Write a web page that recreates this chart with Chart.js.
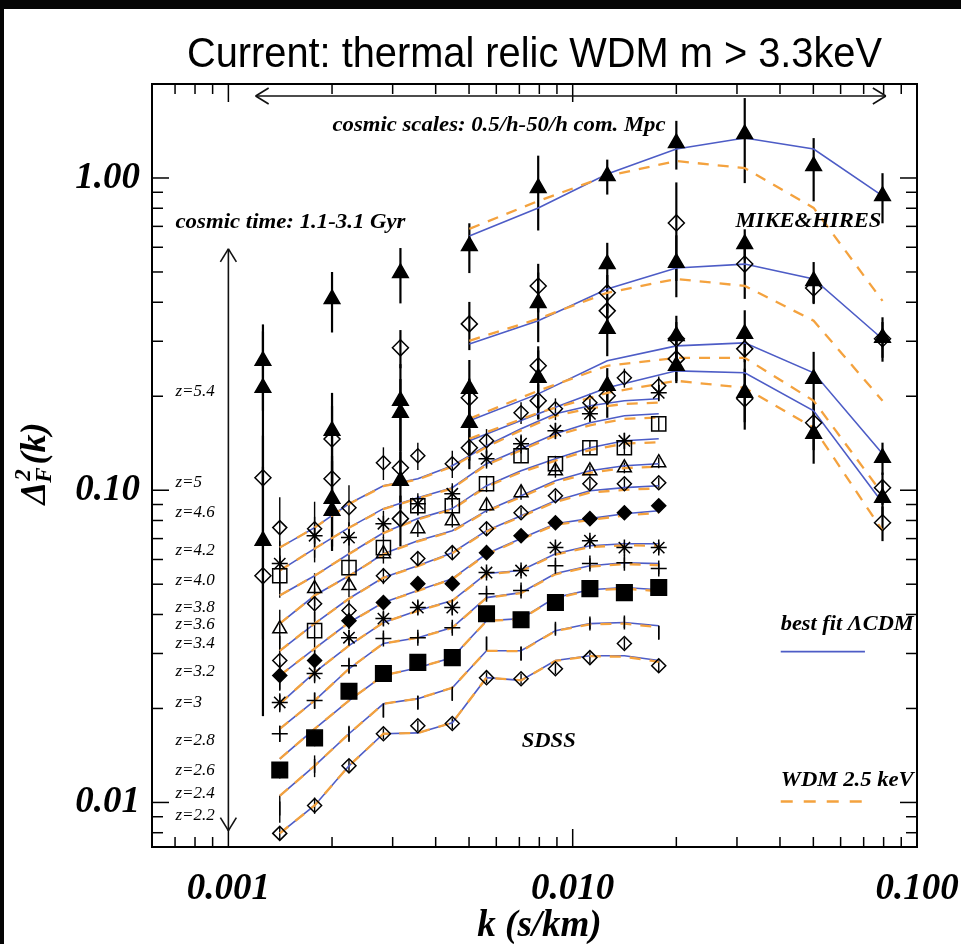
<!DOCTYPE html>
<html>
<head>
<meta charset="utf-8">
<title>Current: thermal relic WDM m > 3.3keV</title>
<script src="https://cdn.jsdelivr.net/npm/chart.js@4.4.1/dist/chart.umd.min.js"></script>
<style>
html,body{margin:0;padding:0;background:#fff;overflow:hidden;}
#box{width:961px;height:944px;position:relative;}
canvas{display:block;}
</style>
</head>
<body>
<div id="box"><canvas id="chart" width="961" height="944"></canvas></div>
<script>
// ---------------- DATA ----------------
const sdssK = [0.00141,0.00178,0.00224,0.00282,0.00355,0.00447,0.00562,0.00708,0.00891,0.01122,0.01413,0.01778];
const mikeK = [0.00126,0.00200,0.00316,0.00501,0.00794,0.0126,0.0200,0.0316,0.0501,0.0794];
const mikeModelK = [0.00501,0.00794,0.0126,0.0200,0.0316,0.0501,0.0794];

const xMajorTicks = [0.001,0.01,0.1];
const xTickLabels = ['0.001','0.010','0.100'];
const yMajorTicks = [0.01,0.1,1];
const yTickLabels = ['0.01','0.10','1.00'];

const redshiftLabels = ['z=5.4','z=5','z=4.6','z=4.2','z=4.0','z=3.8','z=3.6','z=3.4','z=3.2','z=3','z=2.8','z=2.6','z=2.4','z=2.2'];

// SDSS flux power, points, relative errors, best-fit LCDM and WDM 2.5 keV
const sdss_z22 = [0.00796,0.00978,0.0131,0.0166,0.0176,0.0179,0.0251,0.0249,0.0268,0.0291,0.0323,0.0274];
const errFrac_z22 = [0.05,0.06,0.05,0.04,0.04,0.04,0.04,0.04,0.04,0.04,0.04,0.05];
const lcdm_z22 = [0.00796,0.00978,0.0131,0.0166,0.0167,0.0180,0.0251,0.0246,0.0285,0.0295,0.0295,0.0285];
const wdm_z22  = [0.00796,0.00978,0.0131,0.0166,0.0167,0.0180,0.0251,0.0246,0.0284,0.0294,0.0293,0.0282];

const sdss_z24 = [0.00957,0.0131,0.0166,0.0197,0.0209,0.0223,0.0323,0.0300,0.0360,0.0374,0.0377,0.0350];
const errFrac_z24 = [0.10,0.08,0.06,0.05,0.05,0.05,0.05,0.05,0.04,0.04,0.04,0.05];
const lcdm_z24 = [0.0105,0.0131,0.0166,0.0207,0.0215,0.0233,0.0306,0.0306,0.0355,0.0374,0.0377,0.0368];
const wdm_z24  = [0.0105,0.0131,0.0166,0.0207,0.0215,0.0233,0.0306,0.0305,0.0354,0.0372,0.0374,0.0364];

const sdss_z26 = [0.0127,0.0161,0.0227,0.0259,0.0281,0.0291,0.0402,0.0385,0.0437,0.0484,0.0470,0.0488];
const errFrac_z26 = [0.06,0.06,0.05,0.05,0.04,0.04,0.04,0.04,0.04,0.04,0.04,0.04];
const lcdm_z26 = [0.0138,0.0172,0.0212,0.0255,0.0270,0.0291,0.0382,0.0388,0.0453,0.0480,0.0488,0.0480];
const wdm_z26  = [0.0138,0.0172,0.0212,0.0255,0.0270,0.0291,0.0381,0.0387,0.0451,0.0477,0.0484,0.0475];

const sdss_z28 = [0.0166,0.0212,0.0274,0.0335,0.0337,0.0363,0.0466,0.0477,0.0573,0.0582,0.0586,0.0561];
const errFrac_z28 = [0.06,0.06,0.05,0.04,0.04,0.04,0.04,0.04,0.04,0.04,0.04,0.04];
const lcdm_z28 = [0.0172,0.0212,0.0268,0.0323,0.0337,0.0363,0.0453,0.0470,0.0541,0.0573,0.0586,0.0582];
const wdm_z28  = [0.0172,0.0212,0.0268,0.0323,0.0337,0.0362,0.0452,0.0468,0.0538,0.0569,0.0580,0.0575];

const sdss_z30 = [0.0209,0.0259,0.0337,0.0388,0.0421,0.0421,0.0545,0.0553,0.0655,0.0689,0.0655,0.0655];
const errFrac_z30 = [0.07,0.07,0.06,0.05,0.05,0.05,0.04,0.04,0.04,0.04,0.04,0.04];
const lcdm_z30 = [0.0207,0.0261,0.0318,0.0377,0.0412,0.0443,0.0541,0.0553,0.0626,0.0664,0.0674,0.0674];
const wdm_z30  = [0.0207,0.0261,0.0318,0.0377,0.0411,0.0442,0.0539,0.0550,0.0622,0.0658,0.0666,0.0664];

const sdss_z32 = [0.0255,0.0285,0.0382,0.0437,0.0502,0.0502,0.0631,0.0715,0.0787,0.0811,0.0847,0.0892];
const errFrac_z32 = [0.10,0.08,0.06,0.05,0.05,0.05,0.04,0.04,0.04,0.04,0.04,0.04];
const lcdm_z32 = [0.0255,0.0311,0.0377,0.0437,0.0477,0.0521,0.0626,0.0700,0.0781,0.0811,0.0841,0.0860];
const wdm_z32  = [0.0255,0.0311,0.0377,0.0436,0.0476,0.0519,0.0623,0.0696,0.0775,0.0803,0.0830,0.0846];

const sdss_z34 = [0.0285,0.0433,0.0412,0.0532,0.0604,0.0631,0.0753,0.0847,0.0960,0.1049,0.1049,0.1057];
const errFrac_z34 = [0.20,0.12,0.08,0.06,0.05,0.05,0.05,0.04,0.04,0.04,0.04,0.04];
const lcdm_z34 = [0.0306,0.0374,0.0450,0.0525,0.0573,0.0631,0.0742,0.0829,0.0926,0.0996,0.1019,0.1034];
const wdm_z34  = [0.0306,0.0374,0.0449,0.0524,0.0571,0.0628,0.0738,0.0823,0.0917,0.0983,0.1003,0.1014];

const sdss_z36 = [0.0360,0.0484,0.0495,0.0626,0.0753,0.0799,0.0892,0.0982,0.1154,0.1154,0.1180,0.1225];
const errFrac_z36 = [0.15,0.12,0.08,0.07,0.06,0.05,0.05,0.05,0.05,0.04,0.04,0.04];
const lcdm_z36 = [0.0374,0.0460,0.0532,0.0626,0.0689,0.0742,0.0860,0.0960,0.1072,0.1154,0.1198,0.1216];
const wdm_z36  = [0.0374,0.0460,0.0531,0.0624,0.0686,0.0738,0.0855,0.0951,0.1060,0.1137,0.1177,0.1190];

const sdss_z38 = [0.0532,0.0355,0.0565,0.0655,0.0892,0.0892,0.1049,0.1289,0.1216,0.1368,0.1368,0.1632];
const errFrac_z38 = [0.15,0.15,0.10,0.08,0.07,0.06,0.06,0.05,0.06,0.05,0.05,0.05];
const lcdm_z38 = [0.0460,0.0532,0.0626,0.0731,0.0811,0.0873,0.1034,0.1154,0.1261,0.1368,0.1440,0.1462];
const wdm_z38  = [0.0460,0.0532,0.0625,0.0729,0.0807,0.0868,0.1026,0.1142,0.1244,0.1345,0.1410,0.1425];

const sdss_z40 = [0.0582,0.0715,0.0705,0.0781,0.0905,0.0974,0.1261,0.1409,0.1550,0.1757,0.1440,0.2051];
const errFrac_z40 = [0.18,0.15,0.12,0.10,0.08,0.08,0.07,0.07,0.06,0.06,0.06,0.06];
const lcdm_z40 = [0.0553,0.0650,0.0759,0.0873,0.0946,0.1019,0.1216,0.1358,0.1516,0.1644,0.1731,0.1757];
const wdm_z40  = [0.0553,0.0650,0.0758,0.0870,0.0941,0.1013,0.1206,0.1343,0.1495,0.1614,0.1692,0.1710];

const sdss_z42 = [0.0759,0.0753,0.0879,0.1225,0.1289,0.1216,0.1440,0.1770,0.1823,0.1905,0.2291,0.2160];
const errFrac_z42 = [0.25,0.22,0.18,0.12,0.10,0.10,0.09,0.08,0.08,0.07,0.07,0.07];
const lcdm_z42 = [0.0655,0.0759,0.0905,0.1034,0.1088,0.1198,0.1388,0.1573,0.1757,0.1864,0.1934,0.1963];
const wdm_z42  = [0.0655,0.0759,0.0903,0.1030,0.1082,0.1190,0.1376,0.1555,0.1731,0.1829,0.1890,0.1908];

// MIKE (triangles) and HIRES (diamonds) points with 1-sigma errors
const mike_z54 = [0.2597,0.410,0.4966,0.606,0.929,1.015,1.294,1.383,1.092,0.876];
const sig_mike_z54 = [0.08,0.09,0.10,0.11,0.25,0.13,0.23,0.42,0.25,0.16];
const hires_z50 = [0.1096,0.146,0.2858,0.341,0.451,0.429,0.718,0.530,0.4446,0.3056];
const sig_hires_z50 = [0.04,0.04,0.04,0.06,0.08,0.06,0.25,0.12,0.05,0.04];
const mike_z50 = [0.2128,0.155,0.1934,0.2113,0.398,0.530,0.535,0.615,0.468,0.308];
const sig_mike_z50 = [0.11,0.05,0.06,0.05,0.10,0.09,0.12,0.07,0.07,0.05];
const mike_z46 = [0.0689,0.0939,0.177,0.1644,0.229,0.3287,0.312,0.317,0.2274,0.127];
const sig_mike_z46 = [0.05,0.03,0.05,0.04,0.06,0.06,0.05,0.06,0.05,0.015];
const hires_z46 = [0.0532,0.1088,0.118,0.1977,0.2503,0.3754,0.3056,0.2836,null,0.1019];
const sig_hires_z46 = [0.02,0.02,0.015,0.03,0.03,0.04,0.04,0.05,0,0.012];
const mike_z42 = [null,0.086,0.1072,null,null,0.216,0.2503,0.2051,0.1516,0.0946];
const sig_mike_z42 = [0,0.02,0.02,0,0,0.03,0.03,0.04,0.03,0.012];
const hires_z42 = [null,null,0.0811,0.1368,0.1934,0.2006,0.2634,0.1963,0.1644,0.0787];
const sig_hires_z42 = [0,0,0.015,0.02,0.025,0.03,0.04,0.04,0.03,0.01];

// MIKE&HIRES model curves
const lcdm_m54 = [0.652,0.802,1.030,1.238,1.343,1.238,0.876];
const wdm_m54  = [0.687,0.844,1.015,1.133,1.076,0.802,0.404];
const lcdm_m50 = [0.294,0.349,0.441,0.515,0.530,0.475,0.305];
const wdm_m50  = [0.301,0.354,0.429,0.475,0.451,0.349,0.1934];
const lcdm_m46 = [0.167,0.2035,0.2597,0.290,0.2965,0.2377,0.1308];
const wdm_m46  = [0.1694,0.2082,0.2503,0.2655,0.2655,0.1934,0.0974];
const lcdm_m42 = [0.144,0.1757,0.2128,0.2412,0.2377,0.1796,0.0912];
const wdm_m42  = [0.1462,0.177,0.205,0.2241,0.2128,0.1585,0.0742];

// ---------------- STYLE / LAYOUT ----------------
const BLUE = '#4d5cc6';
const ORANGE = '#f4a23e';
const SERIF = '"Liberation Serif","Times New Roman",Times,serif';
const NARROW = '"Liberation Sans Narrow","Liberation Sans",Arial,sans-serif';

const sdssSeries = [
  {pts:sdss_z22, err:errFrac_z22, lcdm:lcdm_z22, wdm:wdm_z22, style:'rectRot', fill:false, r:7},
  {pts:sdss_z24, err:errFrac_z24, lcdm:lcdm_z24, wdm:wdm_z24, style:'line', rot:90, fill:false, r:7},
  {pts:sdss_z26, err:errFrac_z26, lcdm:lcdm_z26, wdm:wdm_z26, style:'rect', fill:true, r:11},
  {pts:sdss_z28, err:errFrac_z28, lcdm:lcdm_z28, wdm:wdm_z28, style:'cross', fill:false, r:8},
  {pts:sdss_z30, err:errFrac_z30, lcdm:lcdm_z30, wdm:wdm_z30, style:'star', fill:false, r:8},
  {pts:sdss_z32, err:errFrac_z32, lcdm:lcdm_z32, wdm:wdm_z32, style:'rectRot', fill:true, r:7},
  {pts:sdss_z34, err:errFrac_z34, lcdm:lcdm_z34, wdm:wdm_z34, style:'rectRot', fill:false, r:7},
  {pts:sdss_z36, err:errFrac_z36, lcdm:lcdm_z36, wdm:wdm_z36, style:'triangle', fill:false, r:8},
  {pts:sdss_z38, err:errFrac_z38, lcdm:lcdm_z38, wdm:wdm_z38, style:'rect', fill:false, r:10},
  {pts:sdss_z40, err:errFrac_z40, lcdm:lcdm_z40, wdm:wdm_z40, style:'star', fill:false, r:8},
  {pts:sdss_z42, err:errFrac_z42, lcdm:lcdm_z42, wdm:wdm_z42, style:'rectRot', fill:false, r:7}
];
const mikeSeries = [
  {pts:mike_z54, sig:sig_mike_z54, style:'triangle', fill:true, r:9},
  {pts:hires_z50, sig:sig_hires_z50, style:'rectRot', fill:false, r:8},
  {pts:mike_z50, sig:sig_mike_z50, style:'triangle', fill:true, r:9},
  {pts:mike_z46, sig:sig_mike_z46, style:'triangle', fill:true, r:9},
  {pts:hires_z46, sig:sig_hires_z46, style:'rectRot', fill:false, r:8},
  {pts:mike_z42, sig:sig_mike_z42, style:'triangle', fill:true, r:9},
  {pts:hires_z42, sig:sig_hires_z42, style:'rectRot', fill:false, r:8}
];
const mikeModels = [[lcdm_m54,wdm_m54],[lcdm_m50,wdm_m50],[lcdm_m46,wdm_m46],[lcdm_m42,wdm_m42]];

function xy(ks, vs){ const o=[]; ks.forEach((k,i)=>{ if(vs[i]!=null) o.push({x:k,y:vs[i]}); }); return o; }

const datasets = [];
const errorSets = [];
function lineSets(ks, lcdm, wdm){
  datasets.push({data:xy(ks,wdm), borderColor:ORANGE, borderWidth:2.3, borderDash:[11,9], pointRadius:0, tension:0, order:2});
  datasets.push({data:xy(ks,lcdm), borderColor:BLUE, borderWidth:1.6, pointRadius:0, tension:0, order:3});
}
function pointSet(ks, vals, s){
  datasets.push({data:xy(ks,vals), showLine:false, pointStyle:s.style, pointRotation:s.rot||0,
    pointRadius:s.r, pointBackgroundColor:s.fill?'#000':'rgba(0,0,0,0)', pointBorderColor:'#000',
    pointBorderWidth:1.5, order:1});
}
sdssSeries.forEach(s=>{
  lineSets(sdssK, s.lcdm, s.wdm);
  pointSet(sdssK, s.pts, s);
  errorSets.push({k:sdssK, v:s.pts, sig:s.pts.map((v,i)=>v*s.err[i]), w:1.4});
});
mikeModels.forEach(m=>lineSets(mikeModelK, m[0], m[1]));
mikeSeries.forEach(s=>{
  pointSet(mikeK, s.pts, s);
  errorSets.push({k:mikeK, v:s.pts, sig:s.sig, w:2.2});
});

// annotation anchors (data coordinates)
const zLabelAt = [0.2066,0.1057,0.0847,0.0640,0.0513,0.0421,0.0371,0.0323,0.0263,0.0209,0.0158,0.0127,0.01069,0.00909];
const notes = [
  {t:'cosmic scales: 0.5/h-50/h com. Mpc', k:0.00611, v:1.483, align:'center', w:333, size:20},
  {t:'cosmic time: 1.1-3.1 Gyr', k:0.000702, v:0.728, align:'left', w:230, size:20},
  {t:'MIKE&HIRES', k:0.0297, v:0.734, align:'left', w:146, size:21},
  {t:'SDSS', k:0.00852, v:0.0159, align:'center', w:54, size:21},
  {t:'best fit \u039BCDM', k:0.0402, v:0.0374, align:'left', w:133, size:20},
  {t:'WDM 2.5 keV', k:0.0402, v:0.01185, align:'left', w:133, size:20}
];

function isNice(v){ const e=Math.floor(Math.log10(v)+1e-9); const s=v/Math.pow(10,e); return Math.abs(s-Math.round(s))<1e-6; }
function isMajor(v){ const l=Math.log10(v); return Math.abs(l-Math.round(l))<1e-6; }
function labelFor(v, majors, labels){ for(let i=0;i<majors.length;i++){ if(Math.abs(Math.log10(v)-Math.log10(majors[i]))<1e-6) return labels[i]; } return ''; }

function fitText(ctx, text, x, y, font, width, align){
  ctx.save(); ctx.font=font; const w=ctx.measureText(text).width; const sx=width/w;
  ctx.translate(x,y); ctx.scale(sx,1); ctx.textAlign=align; ctx.textBaseline='alphabetic';
  ctx.fillStyle='#000'; ctx.fillText(text,0,0); ctx.restore();
}
function seg(ctx,x1,y1,x2,y2){ ctx.beginPath(); ctx.moveTo(x1,y1); ctx.lineTo(x2,y2); ctx.stroke(); }

const ink = {
  id:'ink',
  beforeDraw(chart){ const c=chart.ctx; c.save(); c.fillStyle='#fff'; c.fillRect(0,0,chart.width,chart.height); c.restore(); },
  beforeDatasetsDraw(chart){
    const {ctx, chartArea:a, scales:{x,y}} = chart;
    ctx.save(); ctx.beginPath(); ctx.rect(a.left,a.top,a.right-a.left,a.bottom-a.top); ctx.clip();
    ctx.strokeStyle='#000';
    errorSets.forEach(es=>{
      ctx.lineWidth=es.w;
      es.k.forEach((k,i)=>{
        const v=es.v[i]; if(v==null||!es.sig[i]) return;
        const lo=Math.max(v-es.sig[i], y.min), hi=v+es.sig[i];
        const px=x.getPixelForValue(k);
        seg(ctx,px,y.getPixelForValue(lo),px,y.getPixelForValue(hi));
      });
    });
    ctx.restore();
  },
  afterDraw(chart){
    const {ctx, chartArea:a, scales:{x,y}} = chart;
    const P=(k,v)=>[x.getPixelForValue(k), y.getPixelForValue(v)];
    ctx.save();
    // frame
    ctx.strokeStyle='#000'; ctx.lineWidth=2;
    ctx.strokeRect(a.left,a.top,a.right-a.left,a.bottom-a.top);
    // inward ticks on all sides
    ctx.lineWidth=1.5;
    x.ticks.forEach(t=>{ const v=t.value; if(!isNice(v)) return; const px=x.getPixelForValue(v);
      if(px<a.left-0.5||px>a.right+0.5) return; const L=isMajor(v)?18:10;
      seg(ctx,px,a.bottom,px,a.bottom-L); seg(ctx,px,a.top,px,a.top+L); });
    y.ticks.forEach(t=>{ const v=t.value; if(!isNice(v)) return; const py=y.getPixelForValue(v);
      if(py<a.top-0.5||py>a.bottom+0.5) return; const L=isMajor(v)?17:11;
      seg(ctx,a.left,py,a.left+L,py); seg(ctx,a.right,py,a.right-L,py); });
    // title
    fitText(ctx,'Current: thermal relic WDM m > 3.3keV',(a.left+a.right)/2,67,'42px '+NARROW,695,'center');
    // x title
    ctx.fillStyle='#000'; ctx.font='bold italic 37px '+SERIF; ctx.textAlign='center'; ctx.textBaseline='alphabetic';
    ctx.fillText('k (s/km)',(a.left+a.right)/2+5,936);
    // y title  Delta^2_F(k)
    ctx.save(); ctx.translate(34,(a.top+a.bottom)/2-2); ctx.rotate(-Math.PI/2);
    const fB='bold italic 36px '+SERIF, fS='bold italic 23px '+SERIF;
    ctx.font=fB; const wD=ctx.measureText('\u0394').width, wK=ctx.measureText('(k)').width;
    ctx.font=fS; const w2=ctx.measureText('2').width, wF=ctx.measureText('F').width;
    const tot=wD+Math.max(w2,wF)+wK+2; let x0=-tot/2; const base=11;
    ctx.textAlign='left'; ctx.fillStyle='#000';
    ctx.font=fB; ctx.fillText('\u0394',x0,base); x0+=wD+1;
    ctx.font=fS; ctx.fillText('2',x0,base-15); ctx.fillText('F',x0-2,base+6); x0+=Math.max(w2,wF)+1;
    ctx.font=fB; ctx.fillText('(k)',x0,base);
    ctx.restore();
    // arrows
    ctx.strokeStyle='#111'; ctx.lineWidth=1.6;
    const [hx1,hy]=P(0.00120,1.83), [hx2]=P(0.0812,1.83);
    seg(ctx,hx1,hy,hx2,hy);
    seg(ctx,hx1,hy,hx1+13,hy-8); seg(ctx,hx1,hy,hx1+13,hy+8);
    seg(ctx,hx2,hy,hx2-13,hy-8); seg(ctx,hx2,hy,hx2-13,hy+8);
    const [vx,vy1]=P(0.001,0.593), [,vy2]=P(0.001,0.00812);
    seg(ctx,vx,vy1,vx,vy2);
    seg(ctx,vx,vy1,vx-8,vy1+13); seg(ctx,vx,vy1,vx+8,vy1+13);
    seg(ctx,vx,vy2,vx-8,vy2-13); seg(ctx,vx,vy2,vx+8,vy2-13);
    // redshift labels
    ctx.fillStyle='#000'; ctx.font='italic 17px '+SERIF; ctx.textAlign='left'; ctx.textBaseline='middle';
    redshiftLabels.forEach((s,i)=>{ const [px,py]=P(0.000702,zLabelAt[i]); ctx.fillText(s,px,py); });
    // notes
    notes.forEach(n=>{ const [px,py]=P(n.k,n.v); fitText(ctx,n.t,px,py+n.size*0.34,'bold italic '+n.size+'px '+SERIF,n.w,n.align); });
    // legend line samples
    const [lx1,ly1]=P(0.0402,0.0304), [lx2]=P(0.0706,0.0304);
    ctx.strokeStyle=BLUE; ctx.lineWidth=1.8; seg(ctx,lx1,ly1,lx2,ly1);
    const [,ly2]=P(0.0402,0.01007);
    ctx.strokeStyle=ORANGE; ctx.lineWidth=2.3; ctx.setLineDash([12,11]); seg(ctx,lx1,ly2,lx2,ly2); ctx.setLineDash([]);
    // dark page border bands
    ctx.fillStyle='#050505'; ctx.fillRect(0,0,chart.width,9); ctx.fillRect(0,0,4,chart.height);
    ctx.restore();
  }
};

new Chart(document.getElementById('chart'), {
  type:'line',
  data:{datasets},
  options:{
    responsive:false, animation:false, devicePixelRatio:1, events:[],
    layout:{padding:{top:84,right:44,left:0,bottom:0}},
    plugins:{legend:{display:false}, tooltip:{enabled:false}, title:{display:false}},
    scales:{
      x:{type:'logarithmic', min:0.0006, max:0.1,
        grid:{display:false, drawTicks:false}, border:{display:false},
        ticks:{autoSkip:false, maxRotation:0, minRotation:0, padding:20, color:'#000',
          font:{family:SERIF, size:37, style:'italic', weight:'bold'},
          callback:(v)=>labelFor(v,xMajorTicks,xTickLabels)},
        afterFit:(s)=>{s.height=97; s.paddingLeft=0; s.paddingRight=0;}},
      y:{type:'logarithmic', min:0.0072, max:2.0,
        grid:{display:false, drawTicks:false}, border:{display:false},
        ticks:{autoSkip:false, padding:12, color:'#000',
          font:{family:SERIF, size:37, style:'italic', weight:'bold'},
          callback:(v)=>labelFor(v,yMajorTicks,yTickLabels)},
        afterFit:(s)=>{s.width=152; s.paddingTop=0; s.paddingBottom=0;}}
    }
  },
  plugins:[ink]
});
</script>
</body>
</html>
